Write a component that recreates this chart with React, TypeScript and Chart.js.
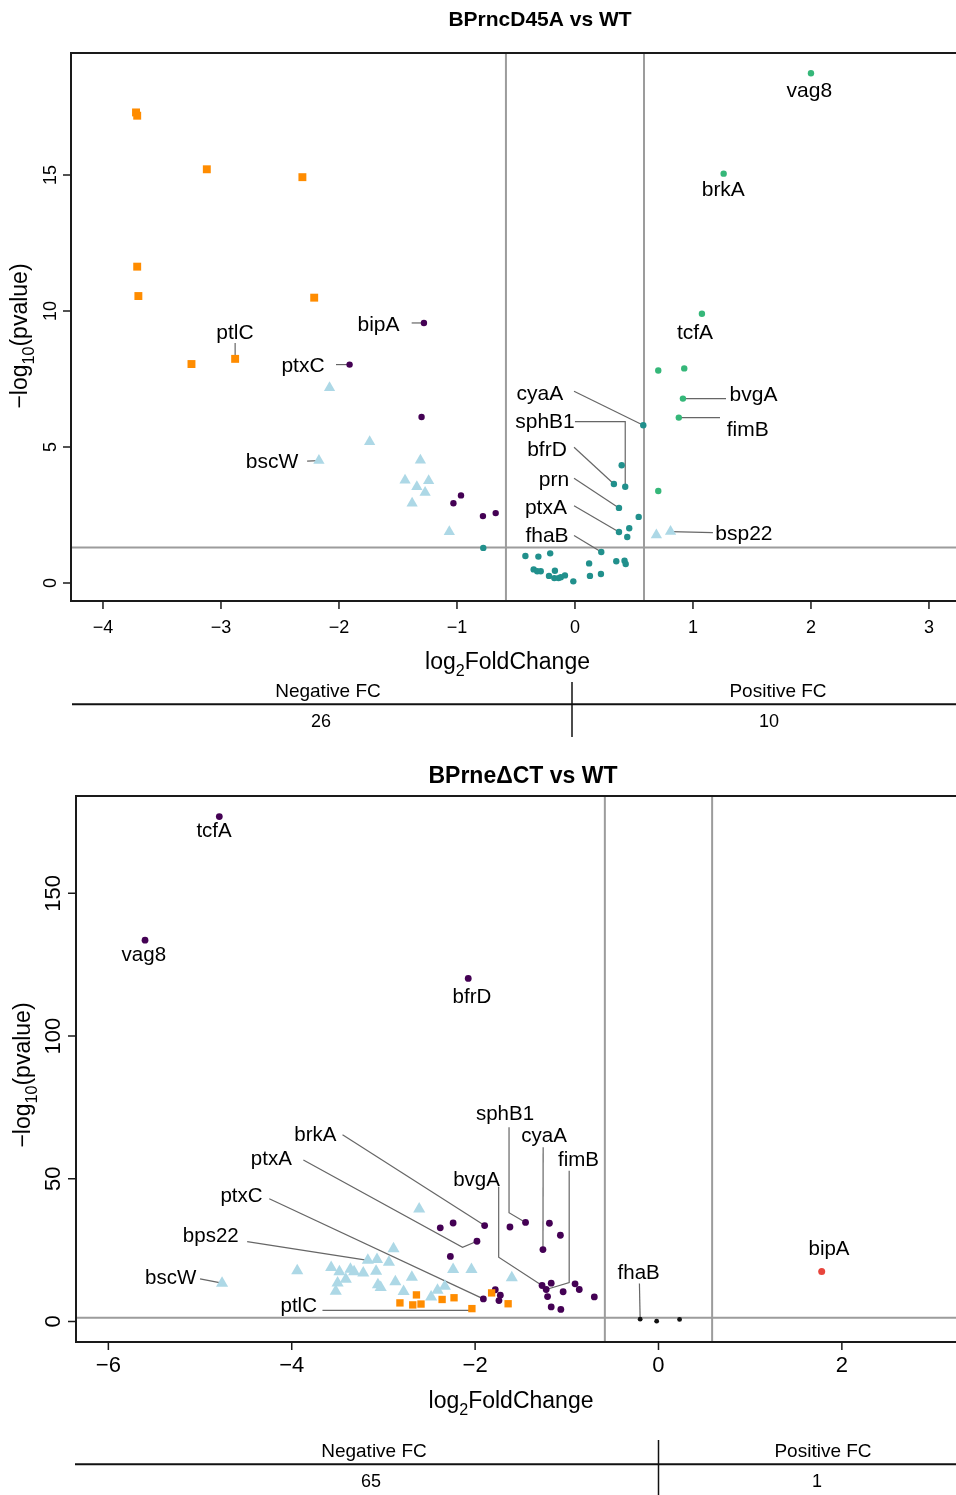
import React, { useEffect, useRef } from 'react';
import { Chart, registerables } from 'chart.js';

Chart.register(...registerables);

const FONT = '"Liberation Sans", Arial, Helvetica, sans-serif';

// colours
const C_PTL = '#FF8C00';
const C_BSC = '#ADD8E6';
const C_DOWN = '#440154';
const C_NS = '#21908C';
const C_UP = '#35B779';
const C_RED = '#E8453C';
const C_BLACK = '#111111';

// significance thresholds
const FC_CUT = 0.585;
const P_CUT = 1.301;

// ================= TOP PANEL: BPrncD45A vs WT =================
const topPtlX = [-3.72, -3.71, -3.12, -2.31, -3.71, -3.70, -2.21, -2.88, -3.25];
const topPtlY = [17.30, 17.18, 15.21, 14.92, 11.63, 10.55, 10.49, 8.24, 8.05];
const topPtlNames = ['', '', '', '', '', '', '', 'ptlC', ''];

const topBscX = [-2.08, -1.74, -2.17, -1.31, -1.44, -1.24, -1.34, -1.27, -1.38, -1.065, 0.69, 0.81];
const topBscY = [7.18, 5.19, 4.50, 4.51, 3.78, 3.76, 3.54, 3.33, 2.93, 1.88, 1.76, 1.89];
const topBscNames = ['', '', 'bscW', '', '', '', '', '', '', '', '', 'bsp22'];

const topDownX = [-1.28, -1.91, -1.30, -0.966, -1.03, -0.672, -0.78];
const topDownY = [9.56, 8.03, 6.10, 3.22, 2.93, 2.57, 2.46];
const topDownNames = ['bipA', 'ptxC', '', '', '', '', ''];

const topNsX = [-0.777, -0.42, -0.31, -0.21, -0.35, -0.32, -0.29, -0.17, -0.22, -0.175, -0.14, -0.12, -0.085, -0.014,
  0.12, 0.127, 0.22, 0.223, 0.35, 0.42, 0.43, 0.373, 0.46, 0.443, 0.54, 0.373, 0.33, 0.426, 0.396, 0.579];
const topNsY = [1.29, 0.99, 0.97, 1.09, 0.50, 0.43, 0.43, 0.45, 0.26, 0.18, 0.18, 0.21, 0.28, 0.06,
  0.72, 0.26, 0.33, 1.14, 0.80, 0.82, 0.70, 1.875, 2.01, 1.69, 2.43, 2.76, 3.64, 3.54, 4.33, 5.80];
const topNsNames = ['', '', '', '', '', '', '', '', '', '', '', '', '', '',
  '', '', '', 'fhaB', '', '', '', 'ptxA', '', '', '', 'prn', 'bfrD', 'sphB1', '', 'cyaA'];

const topUpX = [2.00, 1.26, 1.076, 0.706, 0.926, 0.915, 0.88, 0.706];
const topUpY = [18.74, 15.05, 9.90, 7.81, 7.89, 6.78, 6.08, 3.38];
const topUpNames = ['vag8', 'brkA', 'tcfA', '', '', 'bvgA', 'fimB', ''];

const topXTicks = [-4, -3, -2, -1, 0, 1, 2, 3];
const topYTicks = [0, 5, 10, 15];
const topCounts = ['26', '10'];

// ================= BOTTOM PANEL: BPrneΔCT vs WT =================
const botDownX = [-4.79, -5.60, -2.075, -1.896, -2.38, -2.24, -1.98, -2.27, -1.62, -1.45, -1.19, -1.07, -1.26,
  -1.91, -1.78, -1.725, -1.74, -1.27, -1.225, -1.17, -1.21, -1.04, -0.91, -0.864, -0.70, -1.17, -1.065];
const botDownY = [176.9, 133.6, 120.2, 33.6, 32.8, 34.5, 28.1, 22.8, 33.1, 34.7, 34.4, 30.2, 25.2,
  7.9, 11.1, 9.2, 7.3, 12.6, 11.2, 13.4, 8.7, 10.4, 13.2, 11.2, 8.6, 5.1, 4.2];
const botDownNames = ['tcfA', 'vag8', 'bfrD', 'brkA', '', '', 'ptxA', '', '', 'sphB1', '', '', 'cyaA',
  'ptxC', '', '', '', 'bvgA', 'fimB', '', '', '', '', '', '', '', ''];

const botPtlX = [-2.82, -2.64, -2.68, -2.59, -2.36, -2.23, -2.035, -1.82, -1.64];
const botPtlY = [6.5, 9.3, 5.8, 6.1, 7.7, 8.3, 4.5, 10.0, 6.2];
const botPtlNames = ['', '', '', '', '', '', 'ptlC', '', ''];

const botBscX = [-2.61, -4.76, -3.94, -2.89, -3.17, -3.07, -2.94, -3.57, -3.48, -3.36, -3.32, -3.22, -3.08, -3.41,
  -3.50, -3.52, -3.06, -3.03, -2.87, -2.69, -2.78, -2.24, -2.04, -2.48, -2.41, -2.33, -1.60];
const botBscY = [39.4, 13.4, 17.8, 25.5, 21.4, 21.7, 20.7, 18.9, 17.4, 18.3, 17.4, 17.0, 17.6, 14.8,
  13.5, 10.6, 12.9, 11.9, 13.9, 15.5, 10.5, 18.2, 18.2, 8.6, 10.9, 12.3, 15.3];
const botBscNames = ['', 'bscW', '', '', 'bps22', '', '', '', '', '', '', '', '', '',
  '', '', '', '', '', '', '', '', '', '', '', '', ''];

const botUpX = [1.78];
const botUpY = [17.5];
const botUpNames = ['bipA'];

const botNsX = [-0.20, -0.02, 0.23];
const botNsY = [0.8, 0.1, 0.7];
const botNsNames = ['fhaB', '', ''];

const botXTicks = [-6, -4, -2, 0, 2];
const botYTicks = [0, 50, 100, 150];
const botCounts = ['65', '1'];

// ================= label placement (data units) =================
type LabelDef = { gene: string; x: number; y: number; leader?: number[][] };

const topLabels: LabelDef[] = [
  { gene: 'vag8', x: 1.986, y: 18.16 },
  { gene: 'brkA', x: 1.257, y: 14.51 },
  { gene: 'tcfA', x: 1.017, y: 9.24 },
  { gene: 'bipA', x: -1.665, y: 9.56, leader: [[-1.384, 9.56]] },
  { gene: 'ptlC', x: -2.881, y: 9.26, leader: [[-2.88, 8.82]] },
  { gene: 'ptxC', x: -2.305, y: 8.05, leader: [[-2.025, 8.03]] },
  { gene: 'bscW', x: -2.568, y: 4.52, leader: [[-2.27, 4.48]] },
  { gene: 'cyaA', x: -0.297, y: 7.02, leader: [[-0.008, 7.05]] },
  { gene: 'sphB1', x: -0.254, y: 5.99, leader: [[0.0, 5.93], [0.426, 5.93]] },
  { gene: 'bfrD', x: -0.237, y: 4.96, leader: [[-0.008, 4.99]] },
  { gene: 'prn', x: -0.178, y: 3.86, leader: [[-0.008, 3.85]] },
  { gene: 'ptxA', x: -0.246, y: 2.83, leader: [[-0.008, 2.84]] },
  { gene: 'fhaB', x: -0.237, y: 1.80, leader: [[-0.008, 1.75]] },
  { gene: 'bvgA', x: 1.513, y: 6.98, leader: [[1.28, 6.78]] },
  { gene: 'fimB', x: 1.464, y: 5.69, leader: [[1.229, 6.08]] },
  { gene: 'bsp22', x: 1.432, y: 1.86, leader: [[1.169, 1.85]] },
];

const botLabels: LabelDef[] = [
  { gene: 'tcfA', x: -4.847, y: 172.4 },
  { gene: 'vag8', x: -5.613, y: 129.0 },
  { gene: 'bfrD', x: -2.035, y: 114.3 },
  { gene: 'sphB1', x: -1.674, y: 73.2, leader: [[-1.630, 68.0], [-1.630, 38.1]] },
  { gene: 'cyaA', x: -1.247, y: 65.4, leader: [[-1.258, 61.0]] },
  { gene: 'fimB', x: -0.872, y: 57.2, leader: [[-0.974, 52.8], [-0.974, 13.6]] },
  { gene: 'bvgA', x: -1.984, y: 50.2, leader: [[-1.743, 47.2], [-1.743, 22.5]] },
  { gene: 'brkA', x: -3.742, y: 65.7, leader: [[-3.446, 65.4]] },
  { gene: 'ptxA', x: -4.223, y: 57.3, leader: [[-3.873, 56.6], [-2.137, 26.0]] },
  { gene: 'ptxC', x: -4.548, y: 44.4, leader: [[-4.245, 43.0]] },
  { gene: 'bps22', x: -4.883, y: 30.4, leader: [[-4.486, 28.0]] },
  { gene: 'bscW', x: -5.32, y: 15.6, leader: [[-5.0, 14.9]] },
  { gene: 'ptlC', x: -3.924, y: 5.9, leader: [[-3.665, 3.85], [-2.057, 3.85]] },
  { gene: 'fhaB', x: -0.216, y: 17.6, leader: [[-0.208, 13.3]] },
  { gene: 'bipA', x: 1.86, y: 25.9 },
];

// ================= panel config types =================
type Series = { xs: number[]; ys: number[]; names: string[]; color: string; style: string; radius: number };

type PanelCfg = {
  title: string; top: number; width: number; height: number;
  area: { left: number; top: number; right: number; bottom: number };
  xMin: number; xMax: number; yMin: number; yMax: number;
  xTicks: number[]; yTicks: number[];
  tickFont: number; labelFont: number; titleFont: number; axisFont: number; tableFont: number;
  series: Series[]; labels: LabelDef[];
  titleX: number; titleY: number;
  xTitleX: number; xTitleY: number; yTitleX: number; yTitleY: number;
  xTickY: number; yTickX: number;
  table: {
    lineY: number; lineX0: number; vX: number; vY0: number; vY1: number;
    headY: number; valY: number; negX: number; posX: number; negVX: number; posVX: number;
    counts: string[];
  };
};

const fmt = (v: number) => (v < 0 ? '\u2212' + Math.abs(v) : String(v));

type Part = { t: string; sub?: boolean };

function drawRich(ctx: CanvasRenderingContext2D, parts: Part[], size: number, cx: number, cy: number, rot: boolean) {
  ctx.save();
  ctx.translate(cx, cy);
  if (rot) ctx.rotate(-Math.PI / 2);
  let total = 0;
  const widths = parts.map((p) => {
    ctx.font = `${p.sub ? size * 0.7 : size}px ${FONT}`;
    const w = ctx.measureText(p.t).width;
    total += w;
    return w;
  });
  let x = -total / 2;
  ctx.textAlign = 'left';
  ctx.textBaseline = 'alphabetic';
  ctx.fillStyle = '#000';
  const base = size * 0.36;
  parts.forEach((p, i) => {
    ctx.font = `${p.sub ? size * 0.7 : size}px ${FONT}`;
    ctx.fillText(p.t, x, p.sub ? base + size * 0.3 : base);
    x += widths[i];
  });
  ctx.restore();
}

function drawText(ctx: CanvasRenderingContext2D, t: string, font: string, x: number, y: number, size: number, rot = false) {
  ctx.save();
  ctx.translate(x, y);
  if (rot) ctx.rotate(-Math.PI / 2);
  ctx.font = font;
  ctx.fillStyle = '#000';
  ctx.textAlign = 'center';
  ctx.textBaseline = 'alphabetic';
  ctx.fillText(t, 0, size * 0.36);
  ctx.restore();
}

function Panel({ cfg }: { cfg: PanelCfg }) {
  const ref = useRef<HTMLCanvasElement>(null);
  useEffect(() => {
    const canvas = ref.current;
    if (!canvas) return;
    const a = cfg.area;

    const findPoint = (chart: any, gene: string) => {
      const xs = chart.scales.x;
      const ys = chart.scales.y;
      for (const s of cfg.series) {
        const i = s.names.indexOf(gene);
        if (i >= 0) return [xs.getPixelForValue(s.xs[i]), ys.getPixelForValue(s.ys[i])];
      }
      return null;
    };

    const decor = {
      id: 'volcanoDecor',
      beforeDatasetsDraw(chart: any) {
        const ctx: CanvasRenderingContext2D = chart.ctx;
        const xs = chart.scales.x;
        const ys = chart.scales.y;
        ctx.save();
        // threshold lines
        ctx.strokeStyle = '#9c9c9c';
        ctx.lineWidth = 2;
        ctx.beginPath();
        [-FC_CUT, FC_CUT].forEach((v) => {
          const px = xs.getPixelForValue(v);
          ctx.moveTo(px, a.top);
          ctx.lineTo(px, a.bottom);
        });
        const py = ys.getPixelForValue(P_CUT);
        ctx.moveTo(a.left, py);
        ctx.lineTo(a.right, py);
        ctx.stroke();
        // leader lines
        ctx.strokeStyle = '#666666';
        ctx.lineWidth = 1.2;
        cfg.labels.forEach((l) => {
          if (!l.leader) return;
          const end = findPoint(chart, l.gene);
          if (!end) return;
          ctx.beginPath();
          l.leader.forEach((p, i) => {
            const px = xs.getPixelForValue(p[0]);
            const pyy = ys.getPixelForValue(p[1]);
            if (i === 0) ctx.moveTo(px, pyy);
            else ctx.lineTo(px, pyy);
          });
          ctx.lineTo(end[0], end[1]);
          ctx.stroke();
        });
        ctx.restore();
      },
      afterDatasetsDraw(chart: any) {
        const ctx: CanvasRenderingContext2D = chart.ctx;
        const xs = chart.scales.x;
        const ys = chart.scales.y;
        ctx.save();
        // frame
        ctx.strokeStyle = '#1a1a1a';
        ctx.lineWidth = 2;
        ctx.strokeRect(a.left, a.top, a.right - a.left, a.bottom - a.top);
        // ticks
        ctx.lineWidth = 1.5;
        ctx.beginPath();
        cfg.xTicks.forEach((v) => {
          const px = xs.getPixelForValue(v);
          ctx.moveTo(px, a.bottom);
          ctx.lineTo(px, a.bottom + 8);
        });
        cfg.yTicks.forEach((v) => {
          const py = ys.getPixelForValue(v);
          ctx.moveTo(a.left - 8, py);
          ctx.lineTo(a.left, py);
        });
        ctx.stroke();
        const tf = `${cfg.tickFont}px ${FONT}`;
        cfg.xTicks.forEach((v) => drawText(ctx, fmt(v), tf, xs.getPixelForValue(v), cfg.xTickY, cfg.tickFont));
        cfg.yTicks.forEach((v) => drawText(ctx, fmt(v), tf, cfg.yTickX, ys.getPixelForValue(v), cfg.tickFont, true));
        // axis titles
        drawRich(ctx, [{ t: 'log' }, { t: '2', sub: true }, { t: 'FoldChange' }], cfg.axisFont, cfg.xTitleX, cfg.xTitleY, false);
        drawRich(ctx, [{ t: '\u2212log' }, { t: '10', sub: true }, { t: '(pvalue)' }], cfg.axisFont, cfg.yTitleX, cfg.yTitleY, true);
        // title
        drawText(ctx, cfg.title, `bold ${cfg.titleFont}px ${FONT}`, cfg.titleX, cfg.titleY, cfg.titleFont);
        // gene labels
        const lf = `${cfg.labelFont}px ${FONT}`;
        cfg.labels.forEach((l) => {
          drawText(ctx, l.gene, lf, xs.getPixelForValue(l.x), ys.getPixelForValue(l.y), cfg.labelFont);
        });
        // summary table
        const t = cfg.table;
        ctx.strokeStyle = '#111';
        ctx.lineWidth = 2;
        ctx.beginPath();
        ctx.moveTo(t.lineX0, t.lineY);
        ctx.lineTo(cfg.width, t.lineY);
        ctx.stroke();
        ctx.lineWidth = 1.5;
        ctx.beginPath();
        ctx.moveTo(t.vX, t.vY0);
        ctx.lineTo(t.vX, t.vY1);
        ctx.stroke();
        const hf = `${cfg.tableFont}px ${FONT}`;
        drawText(ctx, 'Negative FC', hf, t.negX, t.headY, cfg.tableFont);
        drawText(ctx, 'Positive FC', hf, t.posX, t.headY, cfg.tableFont);
        const vf = `${cfg.tableFont - 1}px ${FONT}`;
        drawText(ctx, t.counts[0], vf, t.negVX, t.valY, cfg.tableFont - 1);
        drawText(ctx, t.counts[1], vf, t.posVX, t.valY, cfg.tableFont - 1);
        ctx.restore();
      },
    };

    const datasets = cfg.series.map((s) => ({
      data: s.xs.map((x, i) => ({ x, y: s.ys[i] })),
      pointStyle: s.style as any,
      pointRadius: s.radius,
      pointHoverRadius: s.radius,
      backgroundColor: s.color,
      borderColor: s.color,
      borderWidth: 0,
      showLine: false,
      clip: false as any,
    }));

    const chart = new Chart(canvas, {
      type: 'scatter',
      data: { datasets },
      options: {
        responsive: false,
        animation: false,
        events: [],
        layout: { padding: { left: a.left, top: a.top, right: cfg.width - a.right, bottom: cfg.height - a.bottom } },
        scales: {
          x: { type: 'linear', min: cfg.xMin, max: cfg.xMax, display: false },
          y: { type: 'linear', min: cfg.yMin, max: cfg.yMax, display: false },
        },
        plugins: { legend: { display: false }, tooltip: { enabled: false } },
      },
      plugins: [decor],
    });
    return () => chart.destroy();
  }, [cfg]);
  return (
    <canvas
      ref={ref}
      width={cfg.width}
      height={cfg.height}
      style={{ position: 'absolute', left: 0, top: cfg.top, width: cfg.width, height: cfg.height, display: 'block' }}
    />
  );
}

const topCfg: PanelCfg = {
  title: 'BPrncD45A vs WT', top: 0, width: 1000, height: 745,
  area: { left: 71, top: 53, right: 962, bottom: 601 },
  xMin: -4.271, xMax: 3.28, yMin: -0.662, yMax: 19.485,
  xTicks: topXTicks, yTicks: topYTicks,
  tickFont: 18, labelFont: 21, titleFont: 21, axisFont: 23, tableFont: 19,
  series: [
    { xs: topNsX, ys: topNsY, names: topNsNames, color: C_NS, style: 'circle', radius: 3.2 },
    { xs: topUpX, ys: topUpY, names: topUpNames, color: C_UP, style: 'circle', radius: 3.2 },
    { xs: topDownX, ys: topDownY, names: topDownNames, color: C_DOWN, style: 'circle', radius: 3.2 },
    { xs: topBscX, ys: topBscY, names: topBscNames, color: C_BSC, style: 'triangle', radius: 6.5 },
    { xs: topPtlX, ys: topPtlY, names: topPtlNames, color: C_PTL, style: 'rect', radius: 5.6 },
  ],
  labels: topLabels,
  titleX: 540, titleY: 18,
  xTitleX: 507.5, xTitleY: 661, yTitleX: 19, yTitleY: 336,
  xTickY: 627, yTickX: 50,
  table: {
    lineY: 704.3, lineX0: 72, vX: 572, vY0: 682, vY1: 737,
    headY: 690, valY: 721, negX: 328, posX: 778, negVX: 321, posVX: 769,
    counts: topCounts,
  },
};

const botCfg: PanelCfg = {
  title: 'BPrne\u0394CT vs WT', top: 745, width: 1000, height: 750,
  area: { left: 76, top: 51, right: 965, bottom: 597 },
  xMin: -6.353, xMax: 3.343, yMin: -7.2, yMax: 184.1,
  xTicks: botXTicks, yTicks: botYTicks,
  tickFont: 22, labelFont: 20.5, titleFont: 23, axisFont: 23, tableFont: 19,
  series: [
    { xs: botNsX, ys: botNsY, names: botNsNames, color: C_BLACK, style: 'circle', radius: 2.4 },
    { xs: botUpX, ys: botUpY, names: botUpNames, color: C_RED, style: 'circle', radius: 3.5 },
    { xs: botBscX, ys: botBscY, names: botBscNames, color: C_BSC, style: 'triangle', radius: 7 },
    { xs: botPtlX, ys: botPtlY, names: botPtlNames, color: C_PTL, style: 'rect', radius: 5.2 },
    { xs: botDownX, ys: botDownY, names: botDownNames, color: C_DOWN, style: 'circle', radius: 3.4 },
  ],
  labels: botLabels,
  titleX: 523, titleY: 30,
  xTitleX: 511, xTitleY: 655, yTitleX: 22, yTitleY: 330,
  xTickY: 619, yTickX: 52,
  table: {
    lineY: 719.3, lineX0: 75, vX: 658.5, vY0: 695, vY1: 750,
    headY: 705, valY: 735.5, negX: 374, posX: 823, negVX: 371, posVX: 817,
    counts: botCounts,
  },
};

export default function App() {
  return (
    <div
      style={{
        position: 'absolute', left: 0, top: 0, width: 956, height: 1495,
        overflow: 'hidden', background: '#ffffff',
      }}
    >
      <Panel cfg={topCfg} />
      <Panel cfg={botCfg} />
    </div>
  );
}
